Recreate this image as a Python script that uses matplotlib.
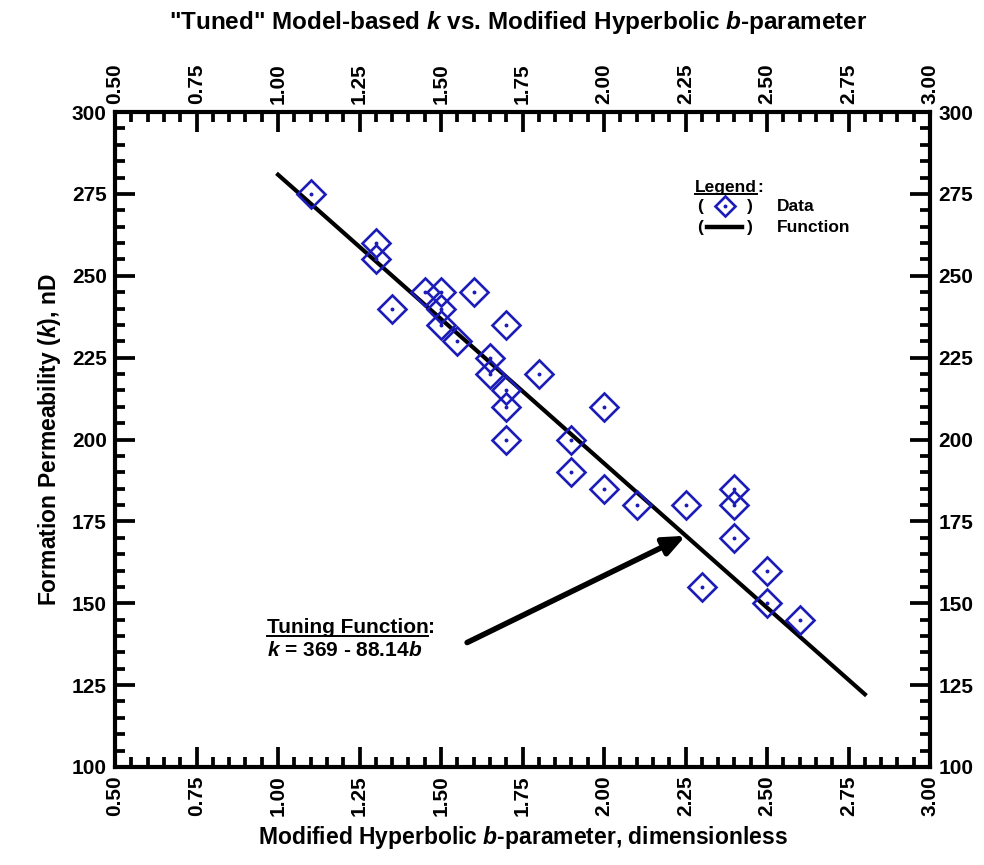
import matplotlib
matplotlib.use("Agg")
import matplotlib.pyplot as plt
from matplotlib.ticker import MultipleLocator, FormatStrFormatter
from matplotlib.lines import Line2D

# Daten
b_data = [1.10, 1.30, 1.30, 1.35, 1.45, 1.50, 1.50, 1.50, 1.55, 1.60,
          1.65, 1.65, 1.70, 1.70, 1.70, 1.70, 1.80, 1.90, 1.90, 2.00,
          2.00, 2.10, 2.25, 2.30, 2.40, 2.40, 2.40, 2.50, 2.50, 2.60]
k_data = [275, 260, 255, 240, 245, 245, 240, 235, 230, 245,
          225, 220, 235, 215, 210, 200, 220, 200, 190, 210,
          185, 180, 180, 155, 185, 180, 170, 160, 150, 145]

# Tuning-Funktion k = 369 - 88.14 b
k0 = 369.0
slope = -88.14
b_fit = [1.0, 2.8]
k_fit = [k0 + slope * b for b in b_fit]

# Pfeil (Anfang / Spitze)
arrow_tail = (1.58, 138.0)
arrow_head = (2.25, 170.6)

plt.rcParams["font.family"] = "Liberation Sans"
plt.rcParams["font.weight"] = "bold"
plt.rcParams["mathtext.fontset"] = "custom"
plt.rcParams["mathtext.it"] = "Liberation Sans:bold:italic"
plt.rcParams["mathtext.rm"] = "Liberation Sans:bold"
plt.rcParams["mathtext.bf"] = "Liberation Sans:bold"

blue = "#1c1cb8"

fig = plt.figure(figsize=(9.84, 8.65), dpi=100)
ax = fig.add_axes([0.1169, 0.1133, 0.8283, 0.7572])

ax.plot(b_fit, k_fit, color="black", lw=3.0, zorder=2)
ax.plot(b_data, k_data, linestyle="none", marker="D", markersize=14.5,
        markerfacecolor="none", markeredgecolor=blue, markeredgewidth=1.9, zorder=3)
ax.plot(b_data, k_data, linestyle="none", marker="o", markersize=1.8,
        color=blue, zorder=4)

ax.set_xlim(0.5, 3.0)
ax.set_ylim(100, 300)
ax.xaxis.set_major_locator(MultipleLocator(0.25))
ax.xaxis.set_minor_locator(MultipleLocator(0.05))
ax.yaxis.set_major_locator(MultipleLocator(25))
ax.yaxis.set_minor_locator(MultipleLocator(5))
ax.xaxis.set_major_formatter(FormatStrFormatter("%.2f"))

ax.tick_params(which="both", direction="in", top=True, right=True, width=2.7)
ax.tick_params(which="major", length=14.5)
ax.tick_params(which="minor", length=7.5)
ax.tick_params(axis="x", labeltop=True, labelrotation=90, labelsize=15, pad=6)
ax.tick_params(axis="y", labelright=True, labelsize=15, pad=6)
for lab in ax.get_xticklabels() + ax.get_yticklabels():
    lab.set_fontweight("bold")
for s in ax.spines.values():
    s.set_linewidth(3.0)

ax.set_xlabel("Modified Hyperbolic $b$-parameter, dimensionless", fontsize=16.5,
              fontweight="bold", labelpad=6)
ax.set_ylabel("Formation Permeability ($k$), nD", fontsize=16.5, fontweight="bold",
              labelpad=6)
fig.text(0.527, 0.99, '"Tuned" Model-based $k$ vs. Modified Hyperbolic $b$-parameter',
         ha="center", va="top", fontsize=17.5, fontweight="bold")

# Annotation mit Pfeil
ax.annotate("", xy=arrow_head, xytext=arrow_tail,
            arrowprops=dict(arrowstyle="-|>,head_length=1.3,head_width=0.55",
                            color="black", lw=4.0, shrinkA=0, shrinkB=0))
t_tf = ax.text(0.965, 142.5, "Tuning Function", fontsize=15, ha="left", va="center")
ax.text(0.965, 135.5, "$k$ = 369 - 88.14$b$", fontsize=15, ha="left", va="center")

# Legende (manuell)
t_lg = ax.text(0.712, 0.885, "Legend", transform=ax.transAxes,
               fontsize=12.5, ha="left", va="center")
ax.text(0.714, 0.856, "(", transform=ax.transAxes, fontsize=12.5, ha="left", va="center")
ax.text(0.782, 0.856, ")", transform=ax.transAxes, fontsize=12.5, ha="right", va="center")
ax.plot([0.748], [0.857], transform=ax.transAxes, marker="D", markersize=10,
        markerfacecolor="none", markeredgecolor=blue, markeredgewidth=1.9, clip_on=False)
ax.plot([0.748], [0.857], transform=ax.transAxes, marker="o", markersize=1.8,
        color=blue, clip_on=False)
ax.text(0.812, 0.856, "Data", transform=ax.transAxes, fontsize=12.5, ha="left", va="center")
ax.text(0.714, 0.823, "(", transform=ax.transAxes, fontsize=12.5, ha="left", va="center")
ax.text(0.782, 0.823, ")", transform=ax.transAxes, fontsize=12.5, ha="right", va="center")
ax.plot([0.726, 0.769], [0.824, 0.824], transform=ax.transAxes, color="black", lw=3.2)
ax.text(0.812, 0.823, "Function", transform=ax.transAxes, fontsize=12.5, ha="left", va="center")

# Unterstreichen + Doppelpunkt
fig.canvas.draw()
inv = fig.transFigure.inverted()
for t in [t_tf, t_lg]:
    bb = t.get_window_extent()
    (x0, y0), (x1, y1) = inv.transform([[bb.x0, bb.y0], [bb.x1, bb.y1]])
    fig.add_artist(Line2D([x0, x1], [y0 + 0.0015, y0 + 0.0015], color="black", lw=1.4,
                          transform=fig.transFigure))
    fig.text(x1, (y0 + y1) / 2, ":", fontsize=t.get_fontsize(), ha="left", va="center")

fig.savefig("out.png", dpi=100)
